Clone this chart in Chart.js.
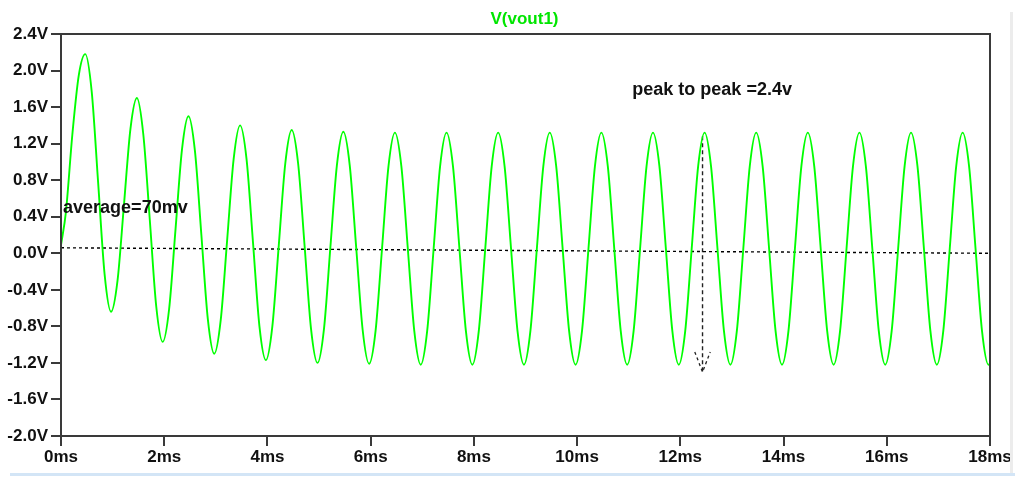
<!DOCTYPE html>
<html>
<head>
<meta charset="utf-8">
<script src="https://cdn.jsdelivr.net/npm/chart.js@4/dist/chart.umd.min.js"></script>
<style>
  body { margin: 0; background: #fff; }
  #wrap { position: relative; width: 1015px; height: 477px; overflow: hidden; }
  #edgeBottom { position: absolute; left: 10px; top: 473px; width: 1005px; height: 3px; background: #d3e5f6; }
  #edgeRight { position: absolute; left: 1010px; top: 12px; width: 3px; height: 461px; background: #ececec; }
</style>
</head>
<body>
<div id="wrap">
  <canvas id="chartVout" width="1015" height="477"></canvas>
  <div id="edgeBottom"></div>
  <div id="edgeRight"></div>
</div>
<script>
// time (ms) and V(vout1)
const times = [0,
  0.095, 0.22, 0.345, 0.47, 0.595, 0.72, 0.845, 0.97,
  1.095, 1.22, 1.345, 1.47, 1.595, 1.72, 1.845, 1.97,
  2.095, 2.22, 2.345, 2.47, 2.595, 2.72, 2.845, 2.97,
  3.095, 3.22, 3.345, 3.47, 3.595, 3.72, 3.845, 3.97,
  4.095, 4.22, 4.345, 4.47, 4.595, 4.72, 4.845, 4.97,
  5.095, 5.22, 5.345, 5.47, 5.595, 5.72, 5.845, 5.97,
  6.095, 6.22, 6.345, 6.47, 6.595, 6.72, 6.845, 6.97,
  7.095, 7.22, 7.345, 7.47, 7.595, 7.72, 7.845, 7.97,
  8.095, 8.22, 8.345, 8.47, 8.595, 8.72, 8.845, 8.97,
  9.095, 9.22, 9.345, 9.47, 9.595, 9.72, 9.845, 9.97,
  10.095, 10.22, 10.345, 10.47, 10.595, 10.72, 10.845, 10.97,
  11.095, 11.22, 11.345, 11.47, 11.595, 11.72, 11.845, 11.97,
  12.095, 12.22, 12.345, 12.47, 12.595, 12.72, 12.845, 12.97,
  13.095, 13.22, 13.345, 13.47, 13.595, 13.72, 13.845, 13.97,
  14.095, 14.22, 14.345, 14.47, 14.595, 14.72, 14.845, 14.97,
  15.095, 15.22, 15.345, 15.47, 15.595, 15.72, 15.845, 15.97,
  16.095, 16.22, 16.345, 16.47, 16.595, 16.72, 16.845, 16.97,
  17.095, 17.22, 17.345, 17.47, 17.595, 17.72, 17.845, 17.97,
  18];
const vout = [0.09,
  0.45, 1.30, 1.95, 2.18, 1.77, 0.77, -0.23, -0.64,
  -0.30, 0.53, 1.36, 1.70, 1.30, 0.37, -0.58, -0.97,
  -0.61, 0.27, 1.14, 1.50, 1.12, 0.20, -0.72, -1.10,
  -0.73, 0.15, 1.03, 1.40, 1.03, 0.12, -0.80, -1.17,
  -0.80, 0.09, 0.98, 1.35, 0.98, 0.08, -0.83, -1.20,
  -0.83, 0.07, 0.96, 1.33, 0.96, 0.06, -0.84, -1.21,
  -0.85, 0.05, 0.95, 1.32, 0.95, 0.05, -0.85, -1.22,
  -0.85, 0.05, 0.95, 1.32, 0.95, 0.05, -0.85, -1.22,
  -0.85, 0.05, 0.95, 1.32, 0.95, 0.05, -0.85, -1.22,
  -0.85, 0.05, 0.95, 1.32, 0.95, 0.05, -0.85, -1.22,
  -0.85, 0.05, 0.95, 1.32, 0.95, 0.05, -0.85, -1.22,
  -0.85, 0.05, 0.95, 1.32, 0.95, 0.05, -0.85, -1.22,
  -0.85, 0.05, 0.95, 1.32, 0.95, 0.05, -0.85, -1.22,
  -0.85, 0.05, 0.95, 1.32, 0.95, 0.05, -0.85, -1.22,
  -0.85, 0.05, 0.95, 1.32, 0.95, 0.05, -0.85, -1.22,
  -0.85, 0.05, 0.95, 1.32, 0.95, 0.05, -0.85, -1.22,
  -0.85, 0.05, 0.95, 1.32, 0.95, 0.05, -0.85, -1.22,
  -0.85, 0.05, 0.95, 1.32, 0.95, 0.05, -0.85, -1.22,
  -1.21];

// dashed average line and the peak-to-peak arrow
const avgTimes = [0, 18];
const avgVolts = [0.06, 0.0];
const arrowTimes = [12.43, 12.43];
const arrowVolts = [1.28, -1.30];
const headTimes = [12.28, 12.43, 12.58];
const headVolts = [-1.08, -1.30, -1.08];

// text notes placed on the plot (left edge, middle)
const noteTexts = ['peak to peak =2.4v', 'average=70mv'];
const noteTimes = [11.07, 0.04];
const noteVolts = [1.79, 0.49];

const traceName = 'V(vout1)';

const FONT = "'Liberation Sans', Arial, sans-serif";

function pts(xs, ys) {
  return xs.map((x, i) => ({ x: x, y: ys[i] }));
}

// frame, title and notes
const plotExtras = {
  id: 'plotExtras',
  afterDraw(chart) {
    const ctx = chart.ctx;
    const a = chart.chartArea;
    const xs = chart.scales.x;
    const ys = chart.scales.y;
    ctx.save();
    ctx.strokeStyle = '#3a3a3a';
    ctx.lineWidth = 2;
    ctx.strokeRect(a.left, a.top, a.right - a.left, a.bottom - a.top);

    ctx.fillStyle = '#00e600';
    ctx.font = 'bold 17px ' + FONT;
    ctx.textAlign = 'center';
    ctx.textBaseline = 'middle';
    ctx.fillText(traceName, (a.left + a.right) / 2 - 1, 19);

    ctx.fillStyle = '#111';
    ctx.font = 'bold 18px ' + FONT;
    ctx.textAlign = 'left';
    noteTexts.forEach((t, i) => {
      ctx.fillText(t, xs.getPixelForValue(noteTimes[i]), ys.getPixelForValue(noteVolts[i]));
    });
    ctx.restore();
  }
};

new Chart('chartVout', {
  type: 'line',
  data: {
    datasets: [
      {
        data: pts(times, vout),
        borderColor: '#00ff00',
        borderWidth: 1.9,
        pointRadius: 0,
        cubicInterpolationMode: 'monotone'
      },
      {
        data: pts(avgTimes, avgVolts),
        borderColor: '#000',
        borderWidth: 1.4,
        borderDash: [3, 3],
        pointRadius: 0
      },
      {
        data: pts(arrowTimes, arrowVolts),
        borderColor: '#222',
        borderWidth: 1.4,
        borderDash: [4, 3],
        pointRadius: 0
      },
      {
        data: pts(headTimes, headVolts),
        borderColor: '#222',
        borderWidth: 1.3,
        borderDash: [3, 3],
        pointRadius: 0
      }
    ]
  },
  options: {
    responsive: false,
    animation: false,
    layout: { padding: { top: 34, right: 25, left: 0, bottom: 0 } },
    plugins: {
      legend: { display: false },
      title: { display: false },
      tooltip: { enabled: false }
    },
    scales: {
      x: {
        type: 'linear',
        min: 0,
        max: 18,
        afterFit: (scale) => { scale.height = 41; },
        border: { display: false },
        grid: { drawOnChartArea: false, drawTicks: true, tickLength: 10, color: '#3a3a3a', lineWidth: 2 },
        ticks: {
          stepSize: 2,
          padding: 1,
          color: '#111',
          font: { family: FONT, size: 17, weight: 'bold' },
          maxRotation: 0,
          callback: (v) => v + 'ms'
        }
      },
      y: {
        min: -2,
        max: 2.4,
        afterFit: (scale) => { scale.width = 61; },
        border: { display: false },
        grid: { drawOnChartArea: false, drawTicks: true, tickLength: 10, color: '#3a3a3a', lineWidth: 2 },
        ticks: {
          stepSize: 0.4,
          padding: 3,
          color: '#111',
          font: { family: FONT, size: 17, weight: 'bold' },
          callback: (v) => (Math.abs(v) < 1e-9 ? 0 : v).toFixed(1) + 'V'
        }
      }
    }
  },
  plugins: [plotExtras]
});
</script>
</body>
</html>
